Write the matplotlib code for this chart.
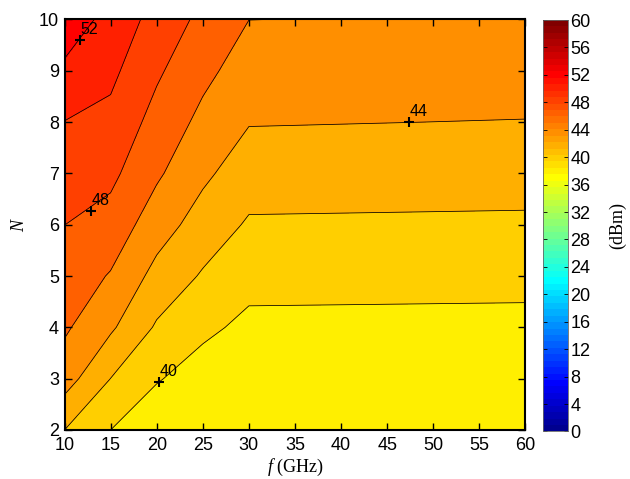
import numpy as np
import matplotlib
matplotlib.use("Agg")
import matplotlib.pyplot as plt
from matplotlib.colors import ListedColormap, Normalize
from matplotlib.cm import ScalarMappable

plt.rcParams["font.family"] = "Liberation Sans"
plt.rcParams["mathtext.fontset"] = "custom"
plt.rcParams["mathtext.it"] = "Liberation Serif:italic"
plt.rcParams["mathtext.rm"] = "Liberation Serif"

# grid: frequency (GHz) x number of elements
freq_ghz = [10, 15, 20, 25, 30, 60]
n_elem = [2, 3, 4, 5, 6, 7, 8, 9, 10]

# output power (dBm) per frequency column, from N=2 up to N=10
p_10 = [42.0, 44.9, 46.3, 47.19, 48.01, 48.98, 49.96, 51.6, 53.27]
p_15 = [40.0, 41.98, 44.31, 45.85, 47.24, 48.46, 49.48, 50.45, 51.3]
p_20 = [38.56, 40.16, 41.76, 43.36, 44.92, 46.3, 47.3, 48.3, 49.3]
p_25 = [37.71, 39.07, 40.44, 41.8, 43.13, 44.39, 45.5, 46.5, 47.5]
p_30 = [37.3, 38.41, 39.53, 40.65, 41.77, 42.93, 44.1, 45.08, 46.01]
p_60 = [37.26, 38.36, 39.47, 40.57, 41.68, 42.81, 43.94, 44.95, 45.85]

line_levels = [40, 42, 44, 46, 48, 50, 52]

# clabel positions
label_f = [11.7, 12.9, 47.4, 20.3]
label_n = [9.6, 6.27, 8.0, 2.94]
label_val = [52, 48, 44, 40]


def matlab_jet(m=64):
    n = int(np.ceil(m / 4))
    u = np.r_[np.arange(1, n + 1) / n, np.ones(n - 1), np.arange(n, 0, -1) / n]
    g = int(np.ceil(n / 2)) - (m % 4 == 1) + np.arange(1, len(u) + 1)
    r = g + n
    b = g - n
    out = np.zeros((m, 3))
    for k, idx in enumerate([r, g, b]):
        ok = (idx >= 1) & (idx <= m)
        out[idx[ok] - 1, k] = u[ok]
    return out


jet = matlab_jet(64)
cmap = ListedColormap(jet)
cmin, cmax = 0, 60

Z = np.column_stack([p_10, p_15, p_20, p_25, p_30, p_60])

fill_levels = [36] + line_levels + [54]
band_low = [38] + line_levels
band_colors = [jet[min(int(v / (cmax - cmin) * 64), 63)] for v in band_low]

fig = plt.figure(figsize=(6.3, 4.79), dpi=100)
ax = fig.add_axes([0.1024, 0.1023, 0.7317, 0.857])

ax.contourf(freq_ghz, n_elem, Z, levels=fill_levels, colors=band_colors)
ax.contour(freq_ghz, n_elem, Z, levels=line_levels, colors="k", linewidths=0.55)

for f, n, v in zip(label_f, label_n, label_val):
    ax.plot(f, n, marker="+", color="k", markersize=7.5, mew=1.5)
    ax.annotate(str(v), (f, n), xytext=(0, 2), textcoords="offset points",
                ha="left", va="bottom", fontsize=11.5)

ax.set_xlim(10, 60)
ax.set_ylim(2, 10)
ax.set_xticks(range(10, 61, 5))
ax.set_yticks(range(2, 11))
ax.tick_params(direction="in", top=True, right=True, length=5, width=1,
               labelsize=13)
ax.tick_params(axis="x", pad=5)
ax.tick_params(axis="y", pad=4)
for s in ax.spines.values():
    s.set_linewidth(1.5)

ax.set_xlabel("$f$ (GHz)", fontsize=13, family="Liberation Serif", labelpad=2)
ax.set_ylabel("$N$", fontsize=13, family="Liberation Serif", labelpad=8)

cax = fig.add_axes([0.862, 0.0992, 0.0389, 0.859])
cb = fig.colorbar(ScalarMappable(norm=Normalize(cmin, cmax), cmap=cmap),
                  cax=cax, ticks=range(0, 61, 4))
cb.outline.set_linewidth(0.6)
cb.outline.set_edgecolor("0.4")
cax.tick_params(direction="in", length=3, width=0.6, left=True, right=True,
                labelsize=13, pad=2)
cb.set_label("(dBm)", family="Liberation Serif", fontsize=13, rotation=90,
             labelpad=13)

fig.savefig("out.png", dpi=100)
